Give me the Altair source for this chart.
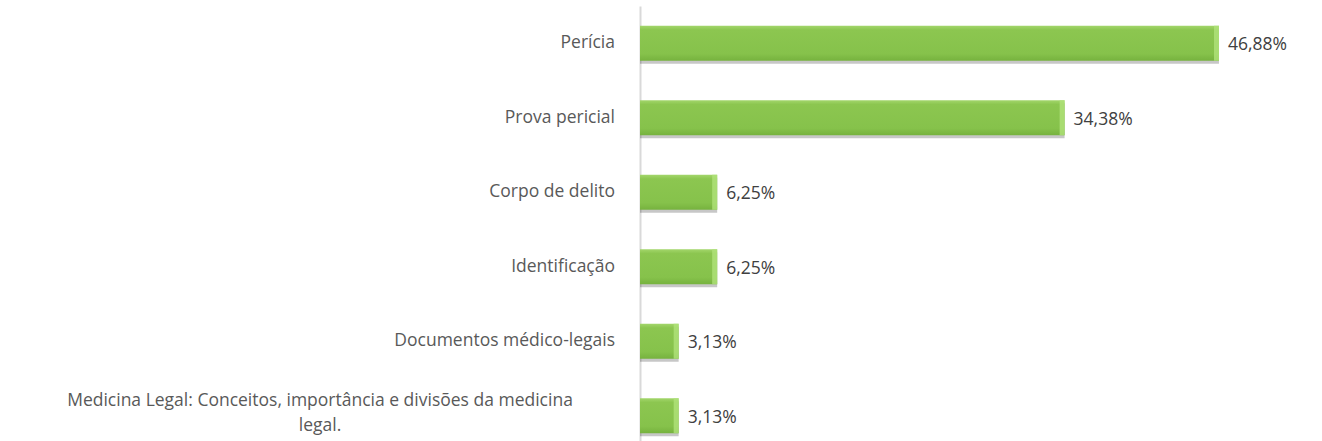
import altair as alt
import pandas as pd

categories = [
    "Perícia",
    "Prova pericial",
    "Corpo de delito",
    "Identificação",
    "Documentos médico-legais",
    "Medicina Legal: Conceitos, importância e divisões da medicina\nlegal.",
]
values = [46.88, 34.38, 6.25, 6.25, 3.13, 3.13]
value_labels = ["46,88%", "34,38%", "6,25%", "6,25%", "3,13%", "3,13%"]
is_long = [False, False, False, False, False, True]

df = pd.DataFrame({"cat": categories, "val": values, "lab": value_labels, "long": is_long})

FONT = "Open Sans"
yenc = alt.Y("cat:N", sort=categories,
             scale=alt.Scale(paddingInner=0.53, paddingOuter=0.265),
             axis=alt.Axis(labels=False, ticks=False, title=None, domainColor="#d9d9d9",
                           domainWidth=2, grid=False))
xscale = alt.Scale(domain=[0, 55.06], nice=False, zero=True)
xenc = alt.X("val:Q", scale=xscale, axis=None)

base = alt.Chart(df)

shadow = base.mark_bar(color="#000000", opacity=0.22, yOffset=3, x2Offset=2).encode(
    x=xenc, y=yenc)

bars = base.mark_bar(color=alt.Gradient(
    gradient="linear", x1=0, x2=0, y1=0, y2=1,
    stops=[alt.GradientStop(color="#a3d66b", offset=0),
           alt.GradientStop(color="#8cc650", offset=0.12),
           alt.GradientStop(color="#86c24b", offset=0.8),
           alt.GradientStop(color="#76b23e", offset=1)])).encode(x=xenc, y=yenc)

highlight = base.mark_bar(color="#b0e27a", opacity=0.8, xOffset=-5).encode(
    x=xenc, x2="val:Q", y=yenc)

vals = base.mark_text(align="left", baseline="middle", dx=9, dy=2, font=FONT,
                      fontSize=17.5, color="#404040").encode(x=xenc, y=yenc, text="lab:N")

cat_short = base.transform_filter("!datum.long").mark_text(
    align="right", baseline="middle", font=FONT, fontSize=17.5, color="#595959").encode(
    x=alt.value(-25), y=yenc, text="cat:N")

cat_long = base.transform_filter("datum.long").mark_text(
    align="center", baseline="middle", font=FONT, fontSize=17.5, color="#595959",
    lineBreak="\n", lineHeight=25, dy=-15).encode(
    x=alt.value(-320), y=yenc, text="cat:N")

chart = alt.layer(shadow, bars, highlight, vals, cat_short, cat_long).properties(
    width=680, height=447,
    background="#ffffff",
    autosize=alt.AutoSizeParams(type="none"),
    padding={"left": 640, "top": 6, "right": 0, "bottom": 0},
).configure_view(stroke=None)

chart.save("out.html", embed_options={"renderer": "svg", "actions": False})
